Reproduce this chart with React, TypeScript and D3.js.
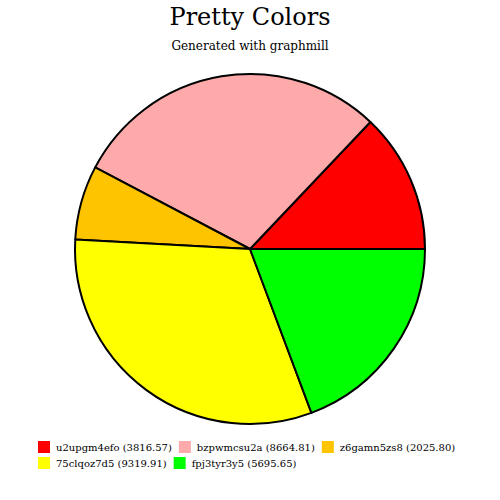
import React from "react";
import * as d3 from "d3";

const labels = ["u2upgm4efo", "bzpwmcsu2a", "z6gamn5zs8", "75clqoz7d5", "fpj3tyr3y5"];
const values = [3816.57, 8664.81, 2025.8, 9319.91, 5695.65];
const colors = ["#ff0000", "#ffaaaa", "#ffc400", "#ffff00", "#00ff00"];

const W = 500, H = 500;
const cx = 250, cy = 249, R = 175;
const FONT = "DejaVu Serif";

function measure(text: string, size: number) {
  const c = document.createElement("canvas").getContext("2d");
  if (!c) return text.length * size * 0.6;
  c.font = `${size}px "${FONT}"`;
  return c.measureText(text).width;
}

export default function App() {
  // counterclockwise from 3 o'clock
  const pie = d3
    .pie<number>()
    .sort(null)
    .startAngle(Math.PI / 2)
    .endAngle(Math.PI / 2 - 2 * Math.PI);
  const arcs = pie(values);
  const arc = d3.arc<d3.PieArcDatum<number>>().innerRadius(0).outerRadius(R);

  const legendItems = labels.map((l, i) => `${l} (${values[i].toFixed(2)})`);
  const rows: { text: string; color: string; x: number; y: number }[] = [];
  const perRow = 3;
  legendItems.forEach((t, i) => {
    const row = Math.floor(i / perRow);
    const col = i % perRow;
    let x = 38;
    if (col > 0) {
      const prev = rows[i - 1];
      x = prev.x + 18 + measure(prev.text, 10) + 7;
    }
    rows.push({ text: t, color: colors[i], x, y: 441 + row * 16 });
  });

  return (
    <svg width={W} height={H} style={{ position: "absolute", left: 0, top: 0, background: "#fff" }}>
      <rect width={W} height={H} fill="#fff" />
      <text x={250} y={25} textAnchor="middle" fontFamily={FONT} fontSize={24} fill="#000">
        Pretty Colors
      </text>
      <text x={250} y={50} textAnchor="middle" fontFamily={FONT} fontSize={12} fill="#000">
        Generated with graphmill
      </text>
      <g transform={`translate(${cx},${cy})`}>
        {arcs.map((a, i) => (
          <path key={i} d={arc(a) || ""} fill={colors[i]} stroke="#000" strokeWidth={2} strokeLinejoin="round" />
        ))}
      </g>
      {rows.map((r, i) => (
        <g key={i}>
          <rect x={r.x} y={r.y} width={12} height={12} fill={r.color} />
          <text x={r.x + 18} y={r.y + 10} fontFamily={FONT} fontSize={10} fill="#000">
            {r.text}
          </text>
        </g>
      ))}
    </svg>
  );
}
